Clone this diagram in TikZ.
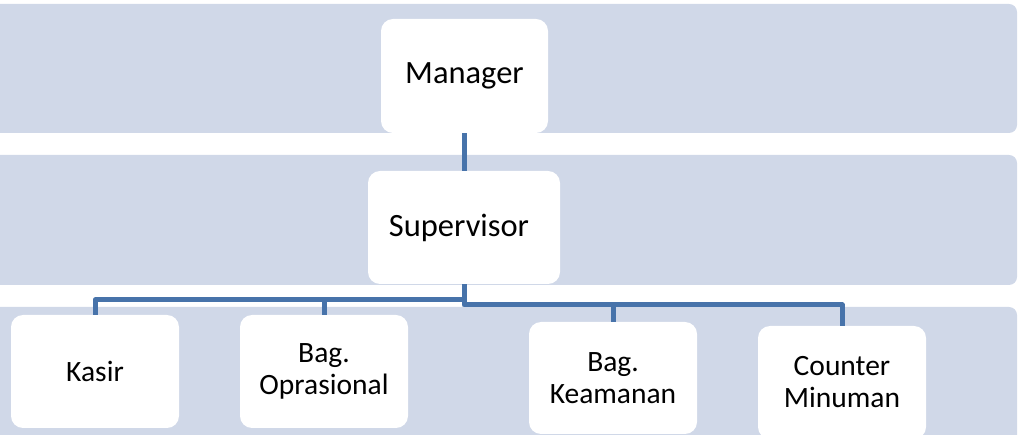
\documentclass[tikz,border=0pt]{standalone}
\usepackage{fontspec}
\setmainfont{Carlito}
\definecolor{bandc}{HTML}{D0D8E8}
\definecolor{linec}{HTML}{4773AA}
\begin{document}
\begin{tikzpicture}[x=1pt,y=-1pt,
  band/.style={fill=bandc,draw=none,rounded corners=8pt},
  boxtop/.style={rectangle,fill=white,draw=none,rounded corners=12pt,inner sep=0pt,
    font=\fontsize{32.5}{35}\selectfont,align=center},
  boxbot/.style={rectangle,fill=white,draw=none,rounded corners=12pt,inner sep=0pt,
    font=\fontsize{29.5}{32}\selectfont,align=center},
  conn/.style={draw=linec,line width=5pt,line join=round}]
\useasboundingbox (0,0) rectangle (1018,435);
\clip (0,0) rectangle (1018,435);
% bands
\fill[band] (-30,4) rectangle (1017,133);
\fill[band] (-30,155) rectangle (1017,285);
\fill[band] (-30,307) rectangle (1017,470);
% boxes
\node[boxtop,minimum width=167pt,minimum height=114pt] (man) at (464.5,76) {Manager};
\node[boxtop,minimum width=192pt,minimum height=113pt] (sup) at (464,227.5) {Supervisor\hspace{10pt}};
\node[boxbot,minimum width=168pt,minimum height=113pt] (kas) at (95,371.5) {Kasir};
\node[boxbot,minimum width=168pt,minimum height=113pt] (opr) at (324,371.5) {Bag.\\Oprasional};
\node[boxbot,minimum width=168pt,minimum height=112pt] (kea) at (613,378) {Bag.\\Keamanan};
\node[boxbot,minimum width=168pt,minimum height=113pt] (cou) at (842,382.5) {Counter\\Minuman};
% junctions
\coordinate (jl) at (464,300);
\coordinate (jr) at (464,305);
% connectors
\draw[conn] (man.south) -- (man.south |- sup.north);
\draw[conn] (sup.south) -- (sup.south |- jl) -| (kas.north);
\draw[conn] (opr.north) -- (opr.north |- jl);
\draw[conn] (sup.south) -- (sup.south |- jr) -| (kea.north);
\draw[conn] (kea.north |- jr) -| (cou.north);
\end{tikzpicture}
\end{document}
